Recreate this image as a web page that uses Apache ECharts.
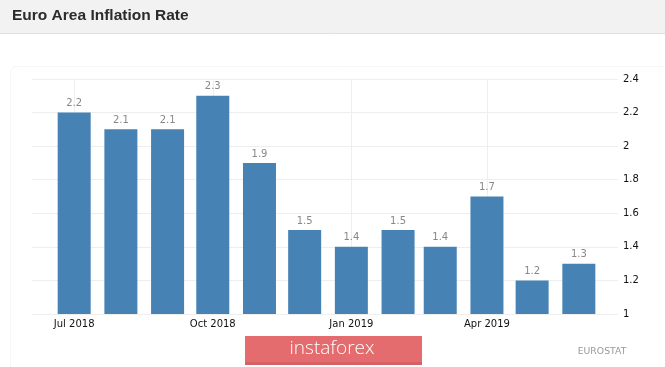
<!DOCTYPE html>
<html>
<head>
<meta charset="utf-8">
<script src="https://cdn.jsdelivr.net/npm/echarts@6/dist/echarts.min.js"></script>
<style>
html,body{margin:0;padding:0;background:#fff;}
#chart{width:665px;height:367px;}
</style>
</head>
<body>
<div id="chart"></div>
<script>
// ---- data ----
const months = ['2018-07-01','2018-08-01','2018-09-01','2018-10-01','2018-11-01','2018-12-01',
                '2019-01-01','2019-02-01','2019-03-01','2019-04-01','2019-05-01','2019-06-01'];
const inflation = [2.2, 2.1, 2.1, 2.3, 1.9, 1.5, 1.4, 1.5, 1.4, 1.7, 1.2, 1.3];
const tickDates = ['2018-07-01','2018-10-01','2019-01-01','2019-04-01'];
const tickLabels = ['Jul 2018','Oct 2018','Jan 2019','Apr 2019'];

function ts(s){ const p = s.split('-'); return Date.UTC(+p[0], +p[1]-1, +p[2]); }
const tickTs = tickDates.map(ts);

const chart = echarts.init(document.getElementById('chart'), null, {renderer:'canvas'});
chart.setOption({
  animation:false,
  backgroundColor:'#ffffff',
  title:{
    text:'Euro Area Inflation Rate',
    left:7, top:3,
    textStyle:{fontFamily:'Liberation Sans', fontWeight:'bold', fontSize:15.5, color:'#2b2b2b'}
  },
  graphic:[
    {type:'rect', z:-10, shape:{x:0,y:0,width:665,height:33}, style:{fill:'#f2f2f2'}},
    {type:'line', z:-9, shape:{x1:0,y1:33.5,x2:665,y2:33.5}, style:{stroke:'#e0e0e0', lineWidth:1}},
    {type:'rect', z:-10, shape:{x:10.5,y:66.5,width:660,height:320,r:6}, style:{fill:'none', stroke:'#f6f6f6', lineWidth:1}},
    {type:'rect', shape:{x:245,y:336,width:177,height:29}, style:{fill:'#e46b6e'}},
    {type:'rect', shape:{x:245,y:362,width:177,height:3}, style:{fill:'#d66164'}},
    {type:'text', x:332, y:349, style:{text:'instaforex', fill:'#ffffff', font:'300 19px "Open Sans"', textAlign:'center', textVerticalAlign:'middle'}},
    {type:'text', x:602, y:352, style:{text:'EUROSTAT', fill:'#999', font:'9.3px "DejaVu Sans"', textAlign:'center', textVerticalAlign:'middle'}}
  ],
  grid:{left:32, right:47, top:79, bottom:53, containLabel:false},
  xAxis:{
    type:'value',
    min: ts('2018-06-03'),
    max: ts('2019-06-27'),
    axisLine:{show:false},
    axisTick:{show:false, customValues: tickTs},
    axisLabel:{
      customValues: tickTs,
      formatter: function(v){ const i = tickTs.indexOf(v); return i >= 0 ? tickLabels[i] : ''; },
      fontFamily:'DejaVu Sans', fontSize:10, color:'#111', margin:5
    },
    splitLine:{show:true, lineStyle:{color:'#eeeeee', width:1}}
  },
  yAxis:{
    type:'value',
    position:'right',
    min:1, max:2.4, interval:0.2,
    axisLine:{show:false},
    axisTick:{show:false},
    axisLabel:{fontFamily:'DejaVu Sans', fontSize:10, color:'#111', margin:5,
      formatter: function(v){ return String(+v.toFixed(1)); }},
    splitLine:{show:true, lineStyle:{color:'#eeeeee', width:1}}
  },
  series:[{
    type:'bar',
    barWidth:33,
    data: months.map((m,i)=>[ts(m), inflation[i]]),
    itemStyle:{color:'#4682b4'},
    label:{show:true, position:'top', distance:4, fontFamily:'DejaVu Sans', fontSize:10, color:'#888',
      formatter: p => p.value[1].toFixed(1)}
  }]
});
</script>
</body>
</html>
